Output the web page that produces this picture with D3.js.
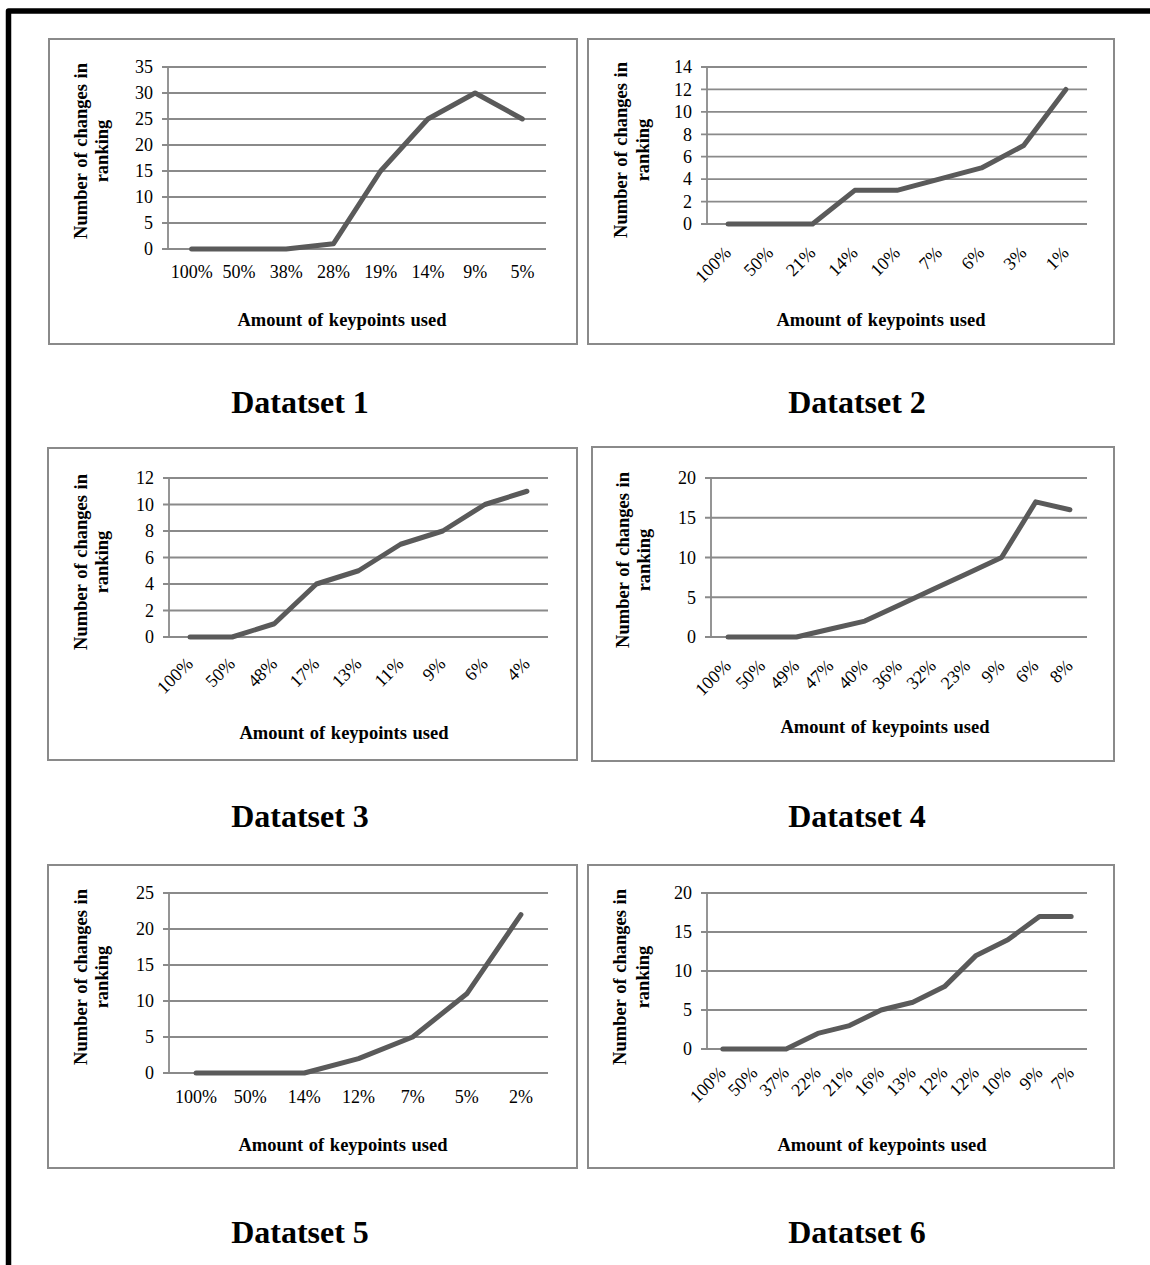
<!DOCTYPE html>
<html>
<head>
<meta charset="utf-8">
<script src="https://cdn.jsdelivr.net/npm/d3@7"></script>
<style>
  body { margin: 0; background: #fff; }
  svg { display: block; }
</style>
</head>
<body>
<svg id="chart" width="1150" height="1265"></svg>
<script>
// ---- data: ranking changes per share of keypoints kept ----
const categories1 = ["100%", "50%", "38%", "28%", "19%", "14%", "9%", "5%"];
const values1 = [0, 0, 0, 1, 15, 25, 30, 25];
const yTicks1 = [0, 5, 10, 15, 20, 25, 30, 35];

const categories2 = ["100%", "50%", "21%", "14%", "10%", "7%", "6%", "3%", "1%"];
const values2 = [0, 0, 0, 3, 3, 4, 5, 7, 12];
const yTicks2 = [0, 2, 4, 6, 8, 10, 12, 14];

const categories3 = ["100%", "50%", "48%", "17%", "13%", "11%", "9%", "6%", "4%"];
const values3 = [0, 0, 1, 4, 5, 7, 8, 10, 11];
const yTicks3 = [0, 2, 4, 6, 8, 10, 12];

const categories4 = ["100%", "50%", "49%", "47%", "40%", "36%", "32%", "23%", "9%", "6%", "8%"];
const values4 = [0, 0, 0, 1, 2, 4, 6, 8, 10, 17, 16];
const yTicks4 = [0, 5, 10, 15, 20];

const categories5 = ["100%", "50%", "14%", "12%", "7%", "5%", "2%"];
const values5 = [0, 0, 0, 2, 5, 11, 22];
const yTicks5 = [0, 5, 10, 15, 20, 25];

const categories6 = ["100%", "50%", "37%", "22%", "21%", "16%", "13%", "12%", "12%", "10%", "9%", "7%"];
const values6 = [0, 0, 0, 2, 3, 5, 6, 8, 12, 14, 17, 17];
const yTicks6 = [0, 5, 10, 15, 20];

const captions = ["Datatset 1", "Datatset 2", "Datatset 3", "Datatset 4", "Datatset 5", "Datatset 6"];
const xTitle = "Amount of keypoints used";
const yTitleLines = ["Number of changes in", "ranking"];

// ---- layout of each chart frame ----
const layout = [
  { box: [49, 39, 577, 344], plotX: [168, 546], plotY: [249, 67], rotate: false, labelDy: 29,
    xTitle: [342, 326], yTitle: [87, 108, 151], caption: [300, 413] },
  { box: [588, 39, 1114, 344], plotX: [707, 1087], plotY: [224, 67], rotate: true, labelDy: 30,
    xTitle: [881, 326], yTitle: [627, 649, 150], caption: [857, 413] },
  { box: [48, 448, 577, 760], plotX: [169, 548], plotY: [637, 478], rotate: true, labelDy: 28,
    xTitle: [344, 739], yTitle: [87, 108, 562], caption: [300, 827] },
  { box: [592, 447, 1114, 761], plotX: [711, 1087], plotY: [637, 478], rotate: true, labelDy: 30,
    xTitle: [885, 733], yTitle: [629, 650, 560], caption: [857, 827] },
  { box: [48, 865, 577, 1168], plotX: [169, 548], plotY: [1073, 893], rotate: false, labelDy: 30,
    xTitle: [343, 1151], yTitle: [87, 108, 977], caption: [300, 1243] },
  { box: [588, 865, 1114, 1168], plotX: [707, 1087], plotY: [1049, 893], rotate: true, labelDy: 25,
    xTitle: [882, 1151], yTitle: [626, 649, 977], caption: [857, 1243] }
];

const series = [
  { cats: categories1, vals: values1, ticks: yTicks1 },
  { cats: categories2, vals: values2, ticks: yTicks2 },
  { cats: categories3, vals: values3, ticks: yTicks3 },
  { cats: categories4, vals: values4, ticks: yTicks4 },
  { cats: categories5, vals: values5, ticks: yTicks5 },
  { cats: categories6, vals: values6, ticks: yTicks6 }
];

const FONT = "'Liberation Serif', 'Times New Roman', Times, serif";
const GRID = "#8a8a8a";
const LINE = "#5a5a5a";
const TICK_SIZE = 18;
const TITLE_SIZE = 18.5;

const svg = d3.select("#chart");

// page frame: heavy black rule along the top and left edge
svg.append("path")
  .attr("d", "M8.5,1265 L8.5,11 L1150,11")
  .attr("fill", "none")
  .attr("stroke", "#000")
  .attr("stroke-width", 5.5)
  .attr("stroke-linejoin", "round");

series.forEach((s, k) => {
  const L = layout[k];
  const g = svg.append("g");

  // chart border
  g.append("rect")
    .attr("x", L.box[0]).attr("y", L.box[1])
    .attr("width", L.box[2] - L.box[0]).attr("height", L.box[3] - L.box[1])
    .attr("fill", "#fff").attr("stroke", GRID).attr("stroke-width", 2);

  const x = d3.scaleBand().domain(d3.range(s.cats.length)).range(L.plotX).padding(0);
  const y = d3.scaleLinear().domain([0, d3.max(s.ticks)]).range(L.plotY);
  const cx = i => x(i) + x.bandwidth() / 2;

  // horizontal gridlines, with the small outward tick on the left
  g.append("g").selectAll("line").data(s.ticks).join("line")
    .attr("x1", L.plotX[0] - 6).attr("x2", L.plotX[1])
    .attr("y1", d => y(d)).attr("y2", d => y(d))
    .attr("stroke", GRID).attr("stroke-width", 1.8);

  // value axis line
  g.append("line")
    .attr("x1", L.plotX[0]).attr("x2", L.plotX[0])
    .attr("y1", y(d3.max(s.ticks))).attr("y2", y(0))
    .attr("stroke", GRID).attr("stroke-width", 1.8);

  // value axis labels
  const gy = g.append("g")
    .attr("transform", `translate(${L.plotX[0]},0)`)
    .call(d3.axisLeft(y).tickValues(s.ticks).tickSize(0).tickPadding(15));
  gy.select(".domain").remove();
  gy.attr("font-family", FONT).attr("font-size", TICK_SIZE);
  gy.selectAll("text").attr("fill", "#000");

  // category axis labels
  const gx = g.append("g")
    .attr("transform", `translate(0,${y(0)})`)
    .call(d3.axisBottom(x).tickFormat(i => s.cats[i]).tickSize(0));
  gx.select(".domain").remove();
  gx.attr("font-family", FONT).attr("font-size", TICK_SIZE);
  const labels = gx.selectAll("text").attr("fill", "#000").attr("dy", null);
  if (L.rotate) {
    labels.attr("y", 0)
      .attr("text-anchor", "end")
      .attr("transform", `translate(4,${L.labelDy}) rotate(-45)`);
  } else {
    labels.attr("y", L.labelDy);
  }

  // the series line
  const line = d3.line().x((d, i) => cx(i)).y(d => y(d));
  g.append("path")
    .datum(s.vals)
    .attr("d", line)
    .attr("fill", "none")
    .attr("stroke", LINE)
    .attr("stroke-width", 5)
    .attr("stroke-linecap", "round")
    .attr("stroke-linejoin", "round");

  // axis titles
  g.append("text")
    .attr("x", L.xTitle[0]).attr("y", L.xTitle[1])
    .attr("text-anchor", "middle")
    .attr("font-family", FONT).attr("font-size", TITLE_SIZE).attr("font-weight", "bold")
    .attr("word-spacing", 1)
    .text(xTitle);

  yTitleLines.forEach((t, j) => {
    g.append("text")
      .attr("transform", `translate(${L.yTitle[j]},${L.yTitle[2]}) rotate(-90)`)
      .attr("text-anchor", "middle")
      .attr("font-family", FONT).attr("font-size", TITLE_SIZE).attr("font-weight", "bold")
      .attr("word-spacing", 1)
      .text(t);
  });

  // caption under each chart
  svg.append("text")
    .attr("x", L.caption[0]).attr("y", L.caption[1])
    .attr("text-anchor", "middle")
    .attr("font-family", FONT).attr("font-size", 32).attr("font-weight", "bold")
    .text(captions[k]);
});
</script>
</body>
</html>
